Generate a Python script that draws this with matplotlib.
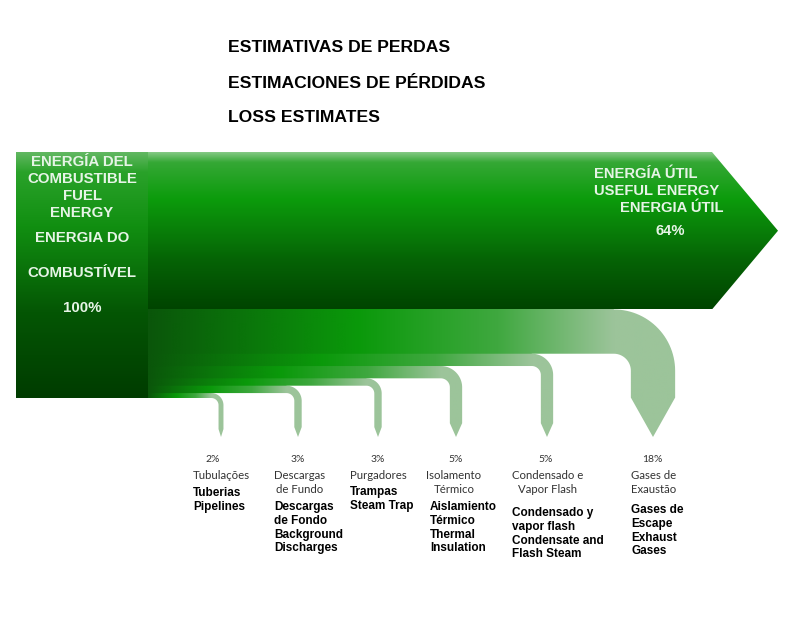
import matplotlib.pyplot as plt
import numpy as np
from matplotlib.colors import LinearSegmentedColormap
from matplotlib.patches import Polygon

# data
useful_pct = 64
loss_pct = [2, 3, 3, 5, 5, 18]
loss_pt = ["Tubulações", "Descargas\nde Fundo", "Purgadores",
           "Isolamento\nTérmico", "Condensado e\nVapor Flash", "Gases de\nExaustão"]
loss_es_en = ["Tuberias\nPipelines", "Descargas\nde Fondo\nBackground\nDischarges",
              "Trampas\nSteam Trap", "Aislamiento\nTérmico\nThermal\nInsulation",
              "Condensado y\nvapor flash\nCondensate and\nFlash Steam",
              "Gases de\nEscape\nExhaust\nGases"]
titles = ["ESTIMATIVAS DE PERDAS", "ESTIMACIONES DE PÉRDIDAS", "LOSS ESTIMATES"]
source_lines = ["ENERGÍA DEL", "COMBUSTIBLE", "FUEL", "ENERGY", "ENERGIA DO", "COMBUSTÍVEL", "100%"]

# layout (pixels)
tube_x = [221, 298, 378, 456, 547, 653]
x_box0, x_box1 = 16, 148
y_top = 152
px_per_pct = 2.46
y_tip = 437

fig = plt.figure(figsize=(8, 6.41), dpi=100)
ax = fig.add_axes([0, 0, 1, 1])
ax.set_xlim(0, 800)
ax.set_ylim(641, 0)
ax.axis('off')


def grad_fill(poly_xy, extent, colors, vertical, z):
    patch = Polygon(poly_xy, closed=True, facecolor='none', edgecolor='none', zorder=z)
    ax.add_patch(patch)
    cmap = LinearSegmentedColormap.from_list('g', colors)
    g = np.linspace(0, 1, 256)
    img = g.reshape(-1, 1) if vertical else g.reshape(1, -1)
    im = ax.imshow(img, cmap=cmap, extent=extent, aspect='auto', origin='upper',
                   interpolation='bilinear', zorder=z)
    im.set_clip_path(patch)


band_cols = [(0, '#0a560a'), (0.45, '#0a990a'), (0.75, '#3fa83f'), (1.0, '#9cc49a')]

# loss bands, rightmost tube on top (upper bands drawn over lower ones)
y = y_top + useful_pct * px_per_pct
for i in reversed(range(len(loss_pct))):
    t = loss_pct[i] * px_per_pct
    xc = tube_x[i]
    xl, xr = xc - t / 2, xc + t / 2
    r_in = 6 + 0.25 * t
    R = r_in + t
    cx, cy = xr - R, y + R
    th = np.linspace(0, np.pi / 2, 30)
    y_head = y_tip - (0.8 * t + 4)
    # top edge pushed 1.5px up, hidden under the band above, to avoid seams
    pts = [(x_box1, y - 1.5), (cx, y - 1.5)]
    pts += [(cx + R * np.sin(a), cy - R * np.cos(a)) for a in th]
    pts += [(xr, y_head), (xc, y_tip), (xl, y_head)]
    pts += [(cx + r_in * np.sin(a), cy - r_in * np.cos(a)) for a in th[::-1]]
    pts += [(x_box1, y + t)]
    L = cx - x_box1
    span = xr - x_box1
    cols = [(p * L / span, c) for p, c in band_cols] + [(1.0, '#9cc49a')]
    grad_fill(pts, [x_box1, xr, y_tip, y - 2], cols, vertical=False, z=2 + i * 0.01)
    y += t

# useful energy arrow
h = useful_pct * px_per_pct
y_b = y_top + h
arrow = [(x_box1 - 2, y_top), (712, y_top), (778, y_top + h / 2), (712, y_b), (x_box1 - 2, y_b)]
grad_fill(arrow, [x_box1 - 2, 780, y_b, y_top],
          [(0, '#8ccc8c'), (0.07, '#35a835'), (0.3, '#0c9c0c'), (0.7, '#056205'), (1, '#004400')],
          vertical=True, z=3)

# source box
y_box1 = y_top + 100 * px_per_pct
box = [(x_box0, y_top), (x_box1, y_top), (x_box1, y_box1), (x_box0, y_box1)]
grad_fill(box, [x_box0, x_box1, y_box1, y_top],
          [(0, '#62b862'), (0.08, '#2aa22a'), (0.3, '#118f11'), (0.65, '#045604'), (1, '#003c00')],
          vertical=True, z=4)

# titles
for k, s in enumerate(titles):
    ax.text(228, [48, 84, 118][k], s, fontsize=12.6, fontweight='bold',
            family='Liberation Sans', va='center', ha='left', color='black')

# source text
txt_c = '#e6f4e6'
for s, yy in zip(source_lines, [162, 179, 196, 213, 238, 273, 308]):
    ax.text(82, yy, s, fontsize=10.8, fontweight='bold', family='Liberation Sans',
            ha='center', va='center', color=txt_c, zorder=6)

# useful text
kw = dict(fontsize=10.6, fontweight='bold', family='Liberation Sans', va='center',
          color=txt_c, zorder=6)
ax.text(594, 174, "ENERGÍA ÚTIL", ha='left', **kw)
ax.text(594, 191, "USEFUL ENERGY", ha='left', **kw)
ax.text(723, 208, "ENERGIA ÚTIL", ha='right', **kw)
ax.text(670, 231, f"{useful_pct}%", ha='center', **kw)

# loss labels
pct_x = [213, 298, 378, 456, 546, 652]
pt_x = [193, 274, 350, 454, 548, 631]
pt_ha = ['left', 'left', 'left', 'center', 'center', 'left']
bold_x = [193, 274, 350, 430, 512, 631]
bold_y = [492, 506, 491, 506, 512, 509]
for i in range(len(loss_pct)):
    ax.text(pct_x[i], 460, f"{loss_pct[i]}%", fontsize=7.5, family='Lato',
            ha='center', va='center', color='#333333')
    ax.text(pt_x[i], 470, loss_pt[i], fontsize=8.2, family='Lato', ha=pt_ha[i],
            va='top', color='#333333', linespacing=1.32, multialignment='center')
    ax.text(bold_x[i], bold_y[i] - 5, loss_es_en[i], fontsize=8.5, fontweight='bold',
            family='Liberation Sans', ha='left', va='top', color='black', linespacing=1.2)

fig.savefig('out.png', dpi=100, facecolor='white')
